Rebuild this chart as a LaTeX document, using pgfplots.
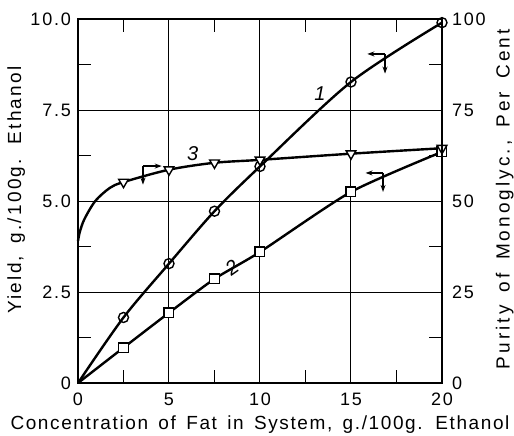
\documentclass[border=0pt]{standalone}
\usepackage{pgfplots}
\pgfplotsset{compat=1.18}
\usetikzlibrary{arrows.meta}
\usepackage{fontspec}
\setmainfont{Liberation Sans}
\newfontfamily\lab[LetterSpace=12,WordSpace=1.6]{Liberation Sans}
\newfontfamily\xlab[LetterSpace=8.5,WordSpace=1.5]{Liberation Sans}
\newfontfamily\rlab[LetterSpace=16,WordSpace=1.6]{Liberation Sans}
\newfontfamily\tlab[LetterSpace=10]{Liberation Sans}
\begin{document}
\begin{tikzpicture}
\clip (-39pt,-26pt) rectangle (218pt,191.5pt);
\begin{axis}[
  at={(0,0)}, anchor=south west,
  scale only axis, width=182pt, height=182pt,
  xmin=0, xmax=20, ymin=0, ymax=10,
  xtick={0,5,10,15,20}, xticklabels={0,5,10,15,20},
  ytick={0,2.5,5,7.5,10}, yticklabels={0,2.5,5.0,7.5,10.0},
  minor x tick num=1, minor y tick num=1,
  grid=major, major grid style={black, line width=0.5pt},
  major tick length=0pt, minor tick length=6.5pt,
  tick style={black, line width=0.7pt},
  axis line style={line width=1pt},
  xticklabel pos=bottom, yticklabel pos=left,
  tick label style={font=\tlab\fontsize{9}{10}\selectfont},
  xticklabel style={yshift=-1.5pt},
  xlabel={\xlab Concentration of Fat in System, g./100g. Ethanol},
  ylabel={\lab Yield, g./100g. Ethanol},
  every axis x label/.style={at={(axis description cs:0.5,-0.115)}, anchor=center, font=\fontsize{9.5}{11}\selectfont},
  every axis y label/.style={at={(axis description cs:-0.17,0.53)}, anchor=center, rotate=90, font=\fontsize{9.5}{11}\selectfont},
  clip=false,
]
% curve 1
\addplot[black, line width=1.2pt, smooth, mark=o, mark size=2.5pt,
  mark options={fill=white, line width=0.7pt}, mark indices={2,3,4,5,6,7}]
  coordinates {(0,0) (2.5,1.8) (5,3.28) (7.5,4.72) (10,5.95) (15,8.27) (20,9.9)};
% curve 2
\addplot[black, line width=1.2pt, smooth, tension=0.4, mark=square*, mark size=2.4pt,
  mark options={fill=white, line width=0.7pt}, mark indices={2,3,4,5,6,7}]
  coordinates {(0,0) (2.5,0.97) (5,1.93) (7.5,2.86) (10,3.6) (15,5.25) (20,6.35)};
% curve 3
\addplot[black, line width=1.2pt, smooth, mark=triangle*, mark size=2.8pt,
  mark options={fill=white, line width=0.7pt, rotate=180}, mark indices={6,7,8,9,10,11}]
  coordinates {(0,3.9) (0.1,4.15) (0.35,4.5) (0.95,5.0) (1.75,5.36) (2.5,5.52)
               (5,5.86) (7.5,6.05) (10,6.13) (15,6.3) (20,6.45)};
% direction arrows
\draw[line width=0.6pt, -{Stealth[length=3.5pt,width=2.5pt]}] (axis cs:16.87,9.04) -- (axis cs:15.9,9.04);
\draw[line width=0.6pt, -{Stealth[length=3.5pt,width=2.5pt]}] (axis cs:16.87,9.04) -- (axis cs:16.87,8.5);
\draw[line width=0.6pt, -{Stealth[length=3.5pt,width=2.5pt]}] (axis cs:16.76,5.77) -- (axis cs:15.8,5.77);
\draw[line width=0.6pt, -{Stealth[length=3.5pt,width=2.5pt]}] (axis cs:16.76,5.77) -- (axis cs:16.76,5.25);
\draw[line width=0.6pt, -{Stealth[length=3.5pt,width=2.5pt]}] (axis cs:3.57,5.96) -- (axis cs:4.6,5.96);
\draw[line width=0.6pt, -{Stealth[length=3.5pt,width=2.5pt]}] (axis cs:3.57,5.96) -- (axis cs:3.57,5.45);
% curve numbers
\node[font=\itshape\fontsize{10}{11}\selectfont] at (axis cs:13.3,7.96) {1};
\node[font=\itshape\fontsize{10}{11}\selectfont, rotate=35] at (axis cs:8.46,3.16) {2};
\node[font=\itshape\fontsize{10}{11}\selectfont] at (axis cs:6.3,6.3) {3};
\end{axis}
\begin{axis}[
  at={(0,0)}, anchor=south west,
  scale only axis, width=182pt, height=182pt,
  xmin=0, xmax=20, ymin=0, ymax=100,
  axis y line*=right, hide x axis,
  ytick={0,25,50,75,100}, yticklabels={0,25,50,75,100},
  major tick length=0pt,
  axis line style={line width=1pt},
  tick label style={font=\tlab\fontsize{9}{10}\selectfont},
  yticklabel style={xshift=1.5pt},
  ylabel={\rlab Purity of Monoglyc., Per Cent},
  every axis y label/.style={at={(axis description cs:1.172,0.505)}, anchor=center, rotate=90, font=\fontsize{9.5}{11}\selectfont},
]
\addplot[draw=none] coordinates {(0,0)};
\end{axis}
\end{tikzpicture}
\end{document}
